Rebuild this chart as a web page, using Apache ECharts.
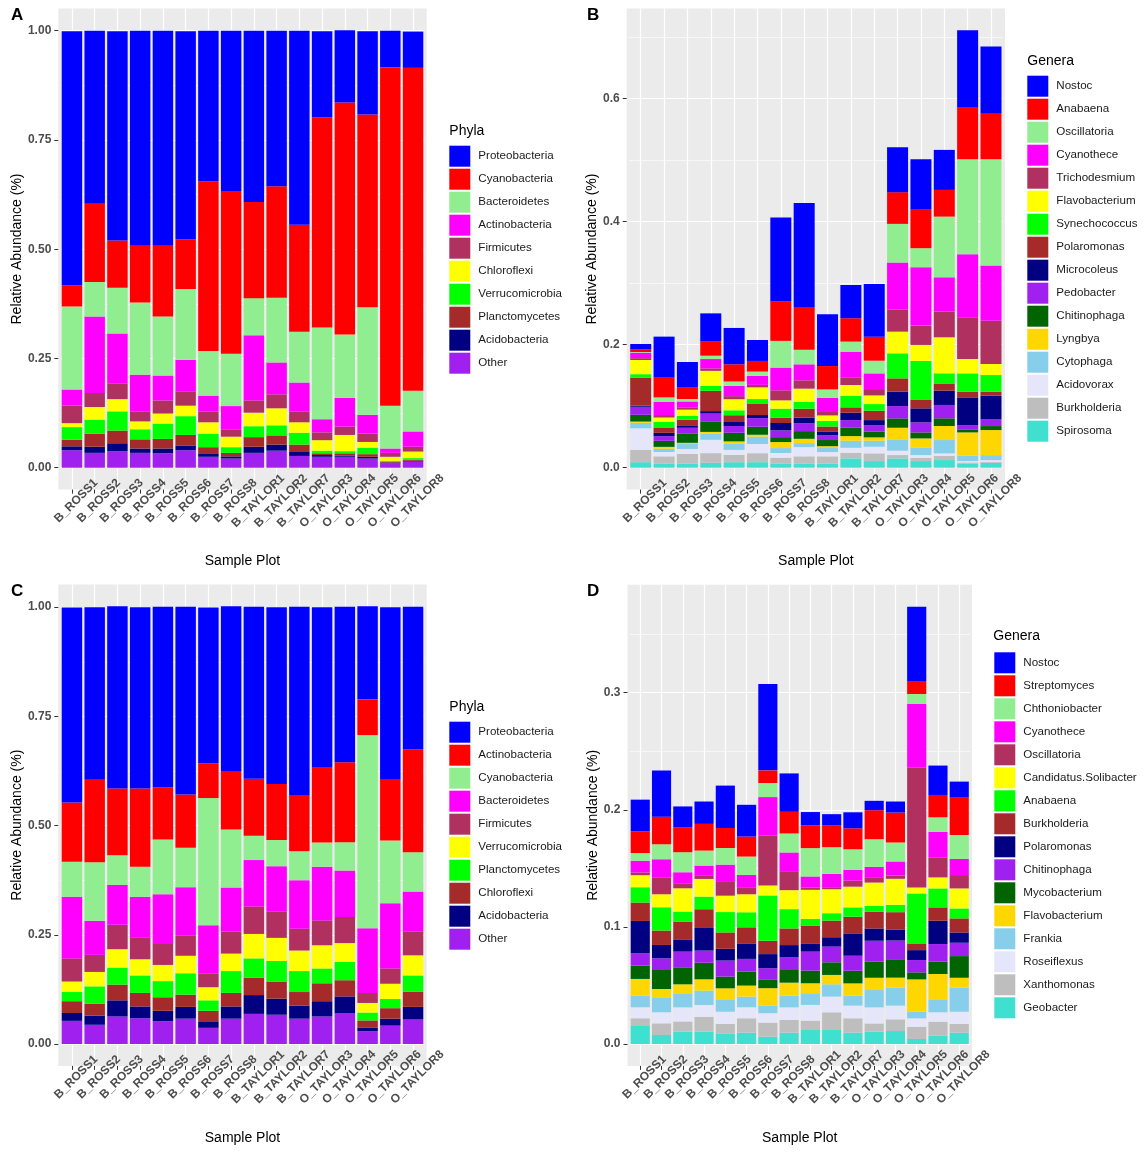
<!DOCTYPE html>
<html>
<head>
<meta charset="utf-8">
<script src="https://cdn.jsdelivr.net/npm/echarts@6/dist/echarts.min.js"></script>
<style>
html, body { margin: 0; padding: 0; background: #ffffff; width: 1143px; height: 1152px; overflow: hidden; }
.chart { position: absolute; left: 0; top: 0; width: 1143px; height: 1152px; }
</style>
</head>
<body>
<div id="chartA" class="chart"></div>
<div id="chartB" class="chart"></div>
<div id="chartC" class="chart"></div>
<div id="chartD" class="chart"></div>
<script>
// ---------------- DATA ----------------
const samples = ['B_ROSS1','B_ROSS2','B_ROSS3','B_ROSS4','B_ROSS5','B_ROSS6','B_ROSS7','B_ROSS8',
  'B_TAYLOR1','B_TAYLOR2','B_TAYLOR7','O_TAYLOR3','O_TAYLOR4','O_TAYLOR5','O_TAYLOR6','O_TAYLOR8'];

// Panel A (phyla)
const phylaA = ['Proteobacteria','Cyanobacteria','Bacteroidetes','Actinobacteria','Firmicutes','Chloroflexi','Verrucomicrobia','Planctomycetes','Acidobacteria','Other'];
const A_Proteobacteria  = [0.582,0.396,0.479,0.492,0.492,0.476,0.345,0.367,0.392,0.356,0.444,0.197,0.165,0.191,0.084,0.083];
const A_Cyanobacteria   = [0.048,0.179,0.108,0.130,0.162,0.114,0.388,0.372,0.220,0.255,0.245,0.481,0.531,0.441,0.774,0.739];
const A_Bacteroidetes   = [0.190,0.079,0.105,0.165,0.135,0.162,0.102,0.120,0.085,0.148,0.116,0.210,0.145,0.246,0.098,0.093];
const A_Actinobacteria  = [0.037,0.175,0.114,0.085,0.057,0.072,0.037,0.053,0.149,0.073,0.067,0.030,0.066,0.043,0.010,0.035];
const A_Firmicutes      = [0.040,0.032,0.036,0.022,0.030,0.033,0.024,0.017,0.028,0.032,0.024,0.018,0.019,0.019,0.009,0.011];
const A_Chloroflexi     = [0.009,0.029,0.028,0.018,0.023,0.024,0.026,0.024,0.031,0.039,0.024,0.024,0.037,0.013,0.009,0.015];
const A_Verrucomicrobia = [0.029,0.032,0.044,0.023,0.035,0.043,0.031,0.013,0.025,0.023,0.027,0.006,0.005,0.015,0.002,0.004];
const A_Planctomycetes  = [0.015,0.030,0.029,0.021,0.022,0.024,0.014,0.008,0.022,0.021,0.017,0.004,0.005,0.006,0.002,0.002];
const A_Acidobacteria   = [0.009,0.014,0.018,0.010,0.011,0.011,0.008,0.005,0.014,0.014,0.009,0.004,0.003,0.004,0.002,0.002];
const A_Other           = [0.040,0.034,0.038,0.034,0.033,0.040,0.025,0.021,0.034,0.039,0.027,0.025,0.025,0.021,0.010,0.014];

// Panel B (genera)
const generaB = ['Nostoc','Anabaena','Oscillatoria','Cyanothece','Trichodesmium','Flavobacterium','Synechococcus','Polaromonas','Microcoleus','Pedobacter','Chitinophaga','Lyngbya','Cytophaga','Acidovorax','Burkholderia','Spirosoma'];
const B_Nostoc         = [0.009,0.0667,0.0417,0.045,0.059,0.034,0.136,0.169,0.084,0.054,0.0856,0.0732,0.0824,0.065,0.1247,0.1095];
const B_Anabaena       = [0.004,0.032,0.0184,0.0238,0.028,0.0173,0.0645,0.0694,0.038,0.038,0.039,0.0515,0.0623,0.0434,0.0846,0.0737];
const B_Oscillatoria   = [0.001,0.007,0.004,0.0054,0.007,0.007,0.0434,0.0238,0.0135,0.0163,0.0206,0.0629,0.0309,0.0986,0.1545,0.1729];
const B_Cyanothece     = [0.009,0.0217,0.0103,0.0152,0.0168,0.0146,0.0369,0.026,0.0217,0.0417,0.0255,0.0759,0.0949,0.0558,0.1024,0.0894];
const B_Trichodesmium  = [0.003,0.004,0.003,0.004,0.005,0.004,0.0163,0.0135,0.007,0.0125,0.0103,0.0363,0.0314,0.0417,0.0678,0.0705];
const B_Flavobacterium = [0.023,0.007,0.0103,0.0244,0.018,0.019,0.0135,0.0217,0.009,0.0173,0.0141,0.0352,0.026,0.0585,0.0233,0.0179];
const B_Synechococcus  = [0.006,0.0092,0.006,0.008,0.008,0.008,0.0146,0.011,0.009,0.019,0.0108,0.0407,0.0634,0.0173,0.0298,0.0271];
const B_Polaromonas    = [0.045,0.0087,0.0092,0.033,0.011,0.018,0.0087,0.0146,0.008,0.0087,0.0152,0.0217,0.0136,0.0108,0.0092,0.0065];
const B_Microcoleus    = [0.002,0.0054,0.004,0.004,0.0065,0.005,0.012,0.0087,0.006,0.012,0.0081,0.0233,0.0228,0.0233,0.045,0.0385];
const B_Pedobacter     = [0.013,0.0076,0.0098,0.0135,0.011,0.014,0.011,0.013,0.008,0.0125,0.0108,0.020,0.0163,0.0217,0.007,0.0108];
const B_Chitinophaga   = [0.011,0.0098,0.0146,0.0163,0.014,0.013,0.008,0.0125,0.010,0.0135,0.0092,0.0152,0.0098,0.0125,0.0049,0.0065];
const B_Lyngbya        = [0.002,0.003,0.002,0.003,0.004,0.003,0.0098,0.007,0.003,0.0076,0.0054,0.019,0.0152,0.0228,0.0379,0.0407];
const B_Cytophaga      = [0.009,0.0054,0.008,0.0098,0.0098,0.012,0.008,0.0065,0.0065,0.0114,0.0098,0.0184,0.0119,0.0217,0.0087,0.0081];
const B_Acidovorax     = [0.035,0.007,0.008,0.0217,0.008,0.015,0.0076,0.015,0.007,0.008,0.0108,0.007,0.0043,0.0038,0.0022,0.0027];
const B_Burkholderia   = [0.020,0.012,0.016,0.0157,0.012,0.0146,0.0098,0.012,0.012,0.0092,0.0125,0.0054,0.0054,0.007,0.0016,0.0016];
const B_Spirosoma      = [0.009,0.0065,0.0065,0.008,0.009,0.009,0.0065,0.0065,0.0065,0.0152,0.0108,0.0152,0.0108,0.0125,0.007,0.0081];

// Panel C (phyla)
const phylaC = ['Proteobacteria','Actinobacteria','Cyanobacteria','Bacteroidetes','Firmicutes','Verrucomicrobia','Planctomycetes','Chloroflexi','Acidobacteria','Other'];
const C_Proteobacteria  = [0.446,0.395,0.417,0.415,0.413,0.430,0.356,0.379,0.394,0.405,0.431,0.366,0.356,0.213,0.395,0.327];
const C_Actinobacteria  = [0.136,0.189,0.153,0.179,0.120,0.122,0.080,0.132,0.130,0.128,0.129,0.173,0.183,0.082,0.139,0.235];
const C_Cyanobacteria   = [0.080,0.134,0.068,0.069,0.125,0.090,0.291,0.133,0.056,0.060,0.066,0.055,0.065,0.442,0.144,0.090];
const C_Bacteroidetes   = [0.141,0.078,0.091,0.094,0.114,0.110,0.111,0.101,0.106,0.104,0.111,0.123,0.106,0.148,0.149,0.091];
const C_Firmicutes      = [0.053,0.039,0.056,0.049,0.048,0.047,0.031,0.050,0.063,0.060,0.050,0.057,0.060,0.023,0.035,0.055];
const C_Verrucomicrobia = [0.024,0.033,0.042,0.037,0.037,0.040,0.030,0.040,0.056,0.053,0.047,0.053,0.043,0.022,0.035,0.046];
const C_Planctomycetes  = [0.021,0.040,0.039,0.040,0.037,0.049,0.024,0.050,0.044,0.047,0.048,0.034,0.042,0.018,0.021,0.037];
const C_Chloroflexi     = [0.027,0.027,0.036,0.031,0.031,0.028,0.024,0.031,0.040,0.039,0.031,0.041,0.037,0.017,0.024,0.035];
const C_Acidobacteria   = [0.018,0.021,0.037,0.027,0.024,0.027,0.015,0.028,0.043,0.037,0.030,0.035,0.039,0.008,0.016,0.029];
const C_Other           = [0.053,0.044,0.063,0.059,0.052,0.058,0.037,0.058,0.069,0.067,0.058,0.063,0.070,0.029,0.042,0.056];

// Panel D (genera)
const generaD = ['Nostoc','Streptomyces','Chthoniobacter','Cyanothece','Oscillatoria','Candidatus.Solibacter','Anabaena','Burkholderia','Polaromonas','Chitinophaga','Mycobacterium','Flavobacterium','Frankia','Roseiflexus','Xanthomonas','Geobacter'];
const D_Nostoc         = [0.0271,0.0393,0.0177,0.0191,0.0362,0.0271,0.0738,0.0328,0.0114,0.0097,0.0137,0.008,0.0094,0.0635,0.0251,0.0137];
const D_Streptomyces   = [0.0185,0.0236,0.0214,0.0228,0.0171,0.0171,0.0108,0.0185,0.0194,0.0185,0.0179,0.0248,0.0256,0.0111,0.0191,0.0319];
const D_Chthoniobacter = [0.0066,0.0128,0.0171,0.0128,0.0142,0.0157,0.012,0.0162,0.0242,0.0228,0.0177,0.0236,0.0162,0.0085,0.0123,0.0205];
const D_Cyanothece     = [0.01,0.0154,0.0094,0.0088,0.0148,0.0105,0.033,0.016,0.0094,0.0114,0.0091,0.0094,0.012,0.0544,0.0219,0.0137];
const D_Oscillatoria   = [0.0023,0.0145,0.0043,0.0026,0.0117,0.006,0.0425,0.0162,0.002,0.0017,0.0051,0.004,0.0028,0.1023,0.0171,0.0114];
const D_Solibacter     = [0.0103,0.0111,0.0199,0.0151,0.014,0.0154,0.0085,0.0162,0.0248,0.0205,0.0177,0.0199,0.0222,0.0051,0.0094,0.0171];
const D_Anabaena       = [0.0131,0.0199,0.0085,0.0108,0.0174,0.0128,0.0387,0.0165,0.006,0.0063,0.008,0.0051,0.0063,0.0427,0.0162,0.0085];
const D_Burkholderia   = [0.0157,0.0123,0.0157,0.0154,0.014,0.0142,0.0114,0.0142,0.0154,0.0142,0.0142,0.0142,0.0151,0.0057,0.0114,0.012];
const D_Polaromonas    = [0.0276,0.0114,0.01,0.0199,0.01,0.0128,0.012,0.0105,0.0066,0.008,0.0191,0.0105,0.0091,0.0085,0.0199,0.0088];
const D_Chitinophaga   = [0.0105,0.01,0.0134,0.0103,0.0137,0.0108,0.01,0.0108,0.0162,0.0134,0.0128,0.0179,0.016,0.0105,0.0151,0.0114];
const D_Mycobacterium  = [0.0114,0.0162,0.0145,0.0142,0.01,0.012,0.0071,0.0108,0.0108,0.0108,0.0108,0.0137,0.0157,0.006,0.0105,0.0185];
const D_Flavobacterium = [0.0142,0.0071,0.0077,0.0097,0.01,0.0094,0.0148,0.0111,0.0085,0.008,0.0105,0.0105,0.0085,0.0276,0.0222,0.0085];
const D_Frankia        = [0.01,0.0128,0.012,0.0123,0.01,0.0091,0.0066,0.01,0.01,0.0105,0.0085,0.0148,0.0154,0.0057,0.0105,0.0205];
const D_Roseiflexus    = [0.0094,0.0094,0.012,0.01,0.0105,0.0094,0.008,0.0108,0.0134,0.0134,0.0108,0.0137,0.0117,0.0071,0.008,0.0105];
const D_Xanthomonas    = [0.0066,0.01,0.0088,0.0128,0.008,0.0123,0.012,0.0108,0.008,0.0151,0.0123,0.0071,0.01,0.0105,0.012,0.0074];
const D_Geobacter      = [0.0154,0.0077,0.0105,0.0105,0.0091,0.0097,0.0063,0.0097,0.012,0.012,0.0097,0.0105,0.0111,0.0043,0.0071,0.0097];

// Tick labels
const ticksPhyla = [0, 0.25, 0.5, 0.75, 1.0];
const minorPhyla = [0.125, 0.375, 0.625, 0.875];
const ticksB = [0, 0.2, 0.4, 0.6];
const minorB = [0.1, 0.3, 0.5, 0.7];
const ticksD = [0, 0.1, 0.2, 0.3];
const minorD = [0.05, 0.15, 0.25, 0.35];

// ---------------- STYLE ----------------
const FONT = '"Liberation Sans", Arial, Helvetica, sans-serif';
const C_BLUE='#0000FF', C_RED='#FF0000', C_LGREEN='#90EE90', C_MAG='#FF00FF', C_MAROON='#B03060',
      C_YEL='#FFFF00', C_GREEN='#00FF00', C_BROWN='#A52A2A', C_NAVY='#000080', C_PURPLE='#A020F0',
      C_DGREEN='#006400', C_GOLD='#FFD700', C_SKY='#87CEEB', C_LAV='#E6E6FA', C_GREY='#BEBEBE', C_TURQ='#40E0D0';
const colorsA = [C_BLUE,C_RED,C_LGREEN,C_MAG,C_MAROON,C_YEL,C_GREEN,C_BROWN,C_NAVY,C_PURPLE];
const colors16 = [C_BLUE,C_RED,C_LGREEN,C_MAG,C_MAROON,C_YEL,C_GREEN,C_BROWN,C_NAVY,C_PURPLE,C_DGREEN,C_GOLD,C_SKY,C_LAV,C_GREY,C_TURQ];

const panels = [
  { el: 'chartA', letter: 'A', letterPos: [11, 7], taxa: phylaA, colors: colorsA,
    values: [A_Proteobacteria,A_Cyanobacteria,A_Bacteroidetes,A_Actinobacteria,A_Firmicutes,A_Chloroflexi,A_Verrucomicrobia,A_Planctomycetes,A_Acidobacteria,A_Other],
    panel: {x: 58.3, y: 8.4, w: 368.4, h: 481.2}, ticks: ticksPhyla, minor: minorPhyla, dec: 2,
    legendTitle: 'Phyla', legendTitlePos: [449.3, 124], legendPos: [449.3, 145.7], yNameGap: 34 },
  { el: 'chartB', letter: 'B', letterPos: [587, 7], taxa: generaB, colors: colors16,
    values: [B_Nostoc,B_Anabaena,B_Oscillatoria,B_Cyanothece,B_Trichodesmium,B_Flavobacterium,B_Synechococcus,B_Polaromonas,B_Microcoleus,B_Pedobacter,B_Chitinophaga,B_Lyngbya,B_Cytophaga,B_Acidovorax,B_Burkholderia,B_Spirosoma],
    panel: {x: 626.7, y: 8.5, w: 378.3, h: 481.1}, ticks: ticksB, minor: minorB, dec: 1,
    legendTitle: 'Genera', legendTitlePos: [1027.3, 54], legendPos: [1027.3, 75.7], yNameGap: 26.7 },
  { el: 'chartC', letter: 'C', letterPos: [11, 583], taxa: phylaC, colors: colorsA,
    values: [C_Proteobacteria,C_Actinobacteria,C_Cyanobacteria,C_Bacteroidetes,C_Firmicutes,C_Verrucomicrobia,C_Planctomycetes,C_Chloroflexi,C_Acidobacteria,C_Other],
    panel: {x: 58.3, y: 584.4, w: 368.4, h: 481.5}, ticks: ticksPhyla, minor: minorPhyla, dec: 2,
    legendTitle: 'Phyla', legendTitlePos: [449.3, 700], legendPos: [449.3, 721.7], yNameGap: 34 },
  { el: 'chartD', letter: 'D', letterPos: [587, 583], taxa: generaD, colors: colors16,
    values: [D_Nostoc,D_Streptomyces,D_Chthoniobacter,D_Cyanothece,D_Oscillatoria,D_Solibacter,D_Anabaena,D_Burkholderia,D_Polaromonas,D_Chitinophaga,D_Mycobacterium,D_Flavobacterium,D_Frankia,D_Roseiflexus,D_Xanthomonas,D_Geobacter],
    panel: {x: 627.5, y: 584.8, w: 344.5, h: 481.1}, ticks: ticksD, minor: minorD, dec: 1,
    legendTitle: 'Genera', legendTitlePos: [993.3, 629.5], legendPos: [994.3, 652.3], yNameGap: 27.5 }
];

function buildOption(p) {
  const band = p.panel.w / 16.2;            // ggplot discrete expansion of 0.6 on each side
  const gridLeft = p.panel.x + 0.1 * band;
  const gridWidth = 16 * band;
  const totals = samples.map((_, i) => p.values.reduce((s, arr) => s + arr[i], 0));
  const maxStack = Math.max.apply(null, totals);
  const yMin = -0.05 * maxStack, yMax = 1.05 * maxStack;   // ggplot 5% continuous expansion
  const tickColor = '#333333';
  const labelColor = '#4D4D4D';

  const series = p.taxa.map((name, k) => ({
    name: name,
    type: 'bar',
    stack: 'total',
    barWidth: '90%',
    data: p.values[k],
    itemStyle: { color: p.colors[k] },
    emphasis: { disabled: true },
    silent: true
  })).reverse();

  return {
    animation: false,
    textStyle: { fontFamily: FONT },
    title: [
      { text: p.letter, left: p.letterPos[0], top: p.letterPos[1], padding: 0,
        textStyle: { fontSize: 17, fontWeight: 'bold', color: '#000', fontFamily: FONT } },
      { text: p.legendTitle, left: p.legendTitlePos[0], top: p.legendTitlePos[1], padding: 0,
        textStyle: { fontSize: 14, fontWeight: 'normal', color: '#000', fontFamily: FONT } }
    ],
    graphic: [{
      type: 'rect', silent: true, z: -10,
      shape: { x: p.panel.x, y: p.panel.y, width: p.panel.w, height: p.panel.h },
      style: { fill: '#EBEBEB' }
    }],
    grid: { left: gridLeft, top: p.panel.y, width: gridWidth, height: p.panel.h, containLabel: false },
    legend: {
      orient: 'vertical', left: p.legendPos[0], top: p.legendPos[1], padding: 0,
      itemWidth: 21, itemHeight: 21, itemGap: 2, icon: 'rect', selectedMode: false,
      data: p.taxa,
      textStyle: { fontSize: 11.6, color: '#1a1a1a', fontFamily: FONT, padding: [0, 0, 0, 3] }
    },
    xAxis: {
      type: 'category', data: samples,
      axisLine: { show: false, onZero: false },
      axisTick: { show: true, alignWithLabel: true, length: 4, lineStyle: { color: tickColor, width: 1 } },
      axisLabel: { interval: 0, rotate: 45, align: 'center', verticalAlign: 'top', margin: 7,
        fontSize: 12, fontWeight: 'bold', color: labelColor, fontFamily: FONT, hideOverlap: false },
      splitLine: { show: true, alignWithLabel: true, lineStyle: { color: '#FFFFFF', width: 1.2 } },
      name: 'Sample Plot', nameLocation: 'middle', nameGap: 65,
      nameTextStyle: { fontSize: 14, color: '#000', fontFamily: FONT }
    },
    yAxis: [
      {
        type: 'value', min: yMin, max: yMax, offset: 0.1 * band,
        axisLine: { show: false },
        axisTick: { show: true, length: 4, customValues: p.ticks, lineStyle: { color: tickColor, width: 1 } },
        axisLabel: { customValues: p.ticks, formatter: v => Number(v).toFixed(p.dec), margin: 7,
          fontSize: 12, fontWeight: 'bold', color: labelColor, fontFamily: FONT },
        splitLine: { show: true, lineStyle: { color: '#FFFFFF', width: 1.2 } },
        name: 'Relative Abundance (%)', nameLocation: 'middle', nameRotate: 90, nameGap: p.yNameGap,
        nameTextStyle: { fontSize: 14, color: '#000', fontFamily: FONT }
      },
      {
        type: 'value', min: yMin, max: yMax, position: 'left',
        axisLine: { show: false },
        axisTick: { show: false, customValues: p.minor },
        axisLabel: { show: false, customValues: p.minor },
        splitLine: { show: true, lineStyle: { color: '#FFFFFF', width: 0.6 } }
      }
    ],
    series: series
  };
}

panels.forEach(p => {
  const chart = echarts.init(document.getElementById(p.el), null, { renderer: 'canvas' });
  chart.setOption(buildOption(p));
});
</script>
</body>
</html>
